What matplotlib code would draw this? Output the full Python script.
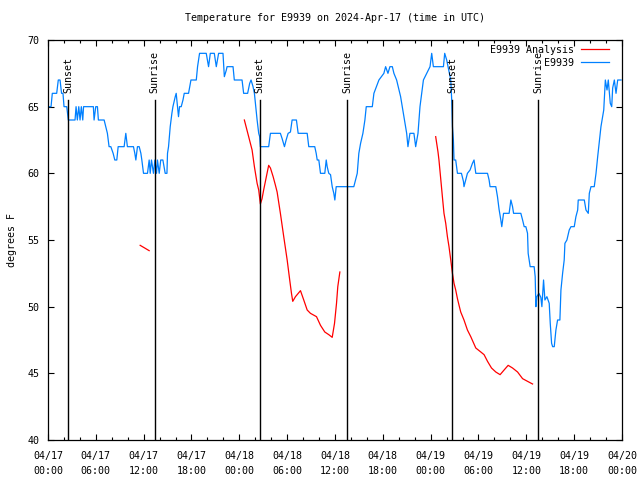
import numpy as np
import pandas as pd
import matplotlib
matplotlib.use("Agg")
import matplotlib.pyplot as plt
import matplotlib.dates as mdates

# hours since 2024-04-17 00:00 UTC
obs_hours = [0.00, 0.38, 0.54, 1.09, 1.29, 1.51, 1.70, 1.88, 2.01, 2.35, 2.55, 3.39, 3.52, 3.68,
             3.86, 4.02, 4.18, 4.36, 4.46, 5.69, 5.78, 5.99, 6.20, 6.32, 6.53, 7.04, 7.25, 7.45,
             7.66, 7.88, 8.17, 8.38, 8.63, 8.80, 9.55, 9.76, 9.96, 10.72, 10.89, 11.02, 11.22,
             11.44, 11.65, 11.77, 11.98, 12.48, 12.69, 12.82, 12.98, 13.23, 13.41, 13.61, 13.73,
             13.95, 14.14, 14.41, 14.70, 14.92, 14.99, 15.12, 15.33, 15.54, 15.67, 15.96, 16.08,
             16.25, 16.37, 16.50, 16.71, 16.93, 17.09, 17.63, 17.93, 18.60, 18.76, 19.01, 19.85,
             20.14, 20.36, 20.86, 21.11, 21.40, 21.95, 22.12, 22.37, 22.46, 23.21, 23.37, 24.34,
             24.54, 25.04, 25.30, 25.47, 25.72, 25.89, 26.23, 26.43, 26.55, 26.64, 27.68, 27.90,
             29.15, 29.37, 29.66, 29.87, 30.12, 30.41, 30.62, 31.16, 31.38, 32.51, 32.71, 33.46,
             33.64, 33.77, 33.97, 34.18, 34.72, 34.90, 35.02, 35.22, 35.44, 35.65, 35.85, 35.98,
             36.15, 38.36, 38.58, 38.79, 38.99, 39.21, 39.50, 39.75, 39.92, 40.68, 40.88, 41.51,
             42.13, 42.35, 42.64, 42.89, 43.19, 43.39, 43.73, 44.23, 44.65, 44.99, 45.15, 45.40,
             45.90, 46.12, 46.41, 46.66, 47.09, 47.50, 47.92, 48.13, 48.34, 49.60, 49.76, 50.01,
             50.52, 50.64, 50.73, 50.85, 50.93, 51.14, 51.36, 51.86, 52.11, 52.18, 52.40, 52.61,
             52.94, 53.24, 53.44, 53.66, 55.13, 55.33, 55.45, 56.17, 56.38, 56.58, 56.80, 56.92,
             57.14, 57.84, 58.06, 58.27, 58.40, 59.31, 59.53, 59.73, 59.94, 60.15, 60.23, 60.48,
             60.98, 61.11, 61.20, 61.32, 61.57, 61.82, 61.95, 62.16, 62.33, 62.58, 62.87, 63.00,
             63.17, 63.30, 63.50, 63.71, 63.92, 64.21, 64.34, 64.55, 64.75, 64.84, 65.09, 65.38,
             65.60, 66.01, 66.22, 66.44, 66.51, 67.27, 67.48, 67.77, 67.90, 68.11, 68.52, 68.74,
             68.95, 69.36, 69.71, 69.91, 70.12, 70.28, 70.53, 70.71, 70.83, 71.04, 71.25, 71.46,
             71.88]
obs_temps = [65, 65, 66, 66, 67, 67, 66, 66, 65, 65, 64, 64, 65, 64,
             65, 64, 65, 64, 65, 65, 64, 65, 65, 64, 64, 64, 63.5, 63,
             62, 62, 61.5, 61, 61, 62, 62, 63, 62, 62, 61.5, 61, 62,
             62, 61.5, 61, 60, 60, 61, 60, 61, 60, 61, 60, 61,
             60, 61, 61, 60, 60, 61.5, 62, 63.5, 64.5, 65, 65.75, 66,
             65, 64.25, 65, 65, 65.5, 66, 66, 67, 67, 68, 69, 69,
             68, 69, 69, 68, 69, 69, 67.25, 67.75, 68, 68, 67, 67,
             66, 66, 66.75, 67, 66.5, 66, 64, 63, 62.75, 62, 62, 63,
             63, 62.6, 62, 62.5, 63, 63.1, 64, 64, 63, 63, 62, 62,
             61.5, 61, 61, 60, 60, 61, 60.5, 60, 59.9, 59, 58.5, 58,
             59, 59, 59.5, 60, 61.5, 62.25, 63, 64, 65, 65, 66, 67,
             67.5, 68, 67.5, 68, 68, 67.5, 67, 65.75, 64.25, 63, 62, 63,
             63, 62, 63, 65, 67, 67.5, 68, 69, 68, 68, 69, 68.5,
             67, 65.5, 63.5, 62.5, 61, 61, 60, 60, 59.4, 59, 59.5, 60,
             60.25, 60.75, 61, 60, 60, 59.5, 59, 59, 58.25, 57.3, 56.5, 56,
             57, 57, 58, 57.5, 57, 57, 56.5, 56, 56, 55.5, 54, 53,
             53, 52.25, 50, 50.75, 51, 50.7, 50, 52, 50.5, 50.75, 50.25, 48.75,
             47.25, 47, 47, 48.25, 49, 49, 51.25, 52.5, 53.5, 54.75, 55, 55.75,
             56, 56, 56.75, 57.25, 58, 58, 57.25, 57, 58.5, 59, 59, 60,
             61.25, 63.5, 64.75, 67, 66.25, 67, 65.25, 65, 66.4, 67, 66, 67,
             67]

ana1_hours = [11.56, 12.13, 12.69]
ana1_temps = [54.6, 54.4, 54.2]
ana2_hours = [24.63, 25.17, 25.60, 25.89, 26.23, 26.43, 26.64, 26.85, 27.05, 27.39, 27.68, 27.90,
              28.24, 28.53, 28.74, 29.15, 29.57, 30.00, 30.32, 30.54, 30.70, 31.04, 31.67, 32.08,
              32.51, 32.92, 33.68, 34.18, 34.72, 35.22, 35.65, 35.94, 36.19, 36.35, 36.61]
ana2_temps = [64.0, 62.75, 61.75, 60.5, 59.25, 58.75, 57.7, 58.1, 58.75, 59.75, 60.6, 60.4,
              59.75, 59.1, 58.6, 57.0, 55.25, 53.5, 52.0, 51.0, 50.4, 50.75, 51.2, 50.5,
              49.75, 49.5, 49.25, 48.6, 48.1, 47.9, 47.7, 48.75, 50.25, 51.5, 52.6]
ana3_hours = [48.63, 48.92, 49.04, 49.26, 49.47, 49.67, 49.89, 50.10, 50.30, 50.52, 50.73, 50.93,
              51.14, 51.36, 51.56, 51.77, 52.18, 52.61, 53.03, 53.66, 54.29, 54.70, 55.13, 55.63,
              56.17, 56.71, 57.21, 57.72, 58.27, 58.90, 59.53, 60.15, 60.78]
ana3_temps = [62.75, 61.6, 61.0, 59.6, 58.25, 57.0, 56.25, 55.25, 54.5, 53.5, 52.5, 51.75,
              51.25, 50.6, 50.1, 49.6, 49.0, 48.25, 47.75, 46.9, 46.6, 46.4, 45.9, 45.4,
              45.1, 44.9, 45.25, 45.6, 45.4, 45.1, 44.6, 44.4, 44.2]

sun_hours = [2.55, 13.36, 26.55, 37.49, 50.68, 61.49]
sun_labels = ["Sunset", "Sunrise", "Sunset", "Sunrise", "Sunset", "Sunrise"]

start = pd.Timestamp("2024-04-17 00:00")
def to_time(h):
    return start + pd.to_timedelta(np.asarray(h, dtype=float), unit="h")

mono = "DejaVu Sans Mono"
fs = 7.2
plt.rcParams["font.family"] = mono
plt.rcParams["font.size"] = fs

fig = plt.figure(figsize=(6.4, 4.8), dpi=100)
ax = fig.add_axes([48 / 640, 40 / 480, 574 / 640, 400 / 480])

ana_h = ana1_hours + [np.nan] + ana2_hours + [np.nan] + ana3_hours
ana_t = ana1_temps + [np.nan] + ana2_temps + [np.nan] + ana3_temps
ana_time = to_time([h if h == h else 0 for h in ana_h])
ax.plot(ana_time, ana_t, color="#ff0000", lw=0.9, label="E9939 Analysis")
ax.plot(to_time(obs_hours), obs_temps, color="#0080ff", lw=0.9, label="E9939")

for h, lab in zip(sun_hours, sun_labels):
    t = to_time([h])[0]
    ax.plot([t, t], [40, 40 + 0.85 * 30], color="black", lw=1.0)
    ax.text(t, 40 + 0.868 * 30, lab, rotation=90, ha="center", va="bottom", fontsize=fs)

ax.set_xlim(start, start + pd.Timedelta(hours=72))
ax.set_ylim(40, 70)
ax.set_yticks(range(40, 71, 5))
ax.xaxis.set_major_locator(mdates.HourLocator(byhour=[0, 6, 12, 18]))
ax.xaxis.set_minor_locator(mdates.HourLocator(byhour=range(0, 24, 2)))
ax.xaxis.set_major_formatter(mdates.DateFormatter("%m/%d\n%H:%M"))
ax.tick_params(which="major", direction="in", length=4.5, width=0.8, top=True, right=True,
               labelsize=fs)
ax.tick_params(axis="x", which="major", pad=8)
ax.tick_params(axis="y", which="major", pad=6)
ax.tick_params(which="minor", direction="in", length=2.5, width=0.8, top=True, right=True)
for lbl in ax.get_xticklabels():
    lbl.set_linespacing(1.55)
for s in ax.spines.values():
    s.set_linewidth(0.9)

ax.set_ylabel("degrees F", fontsize=fs, labelpad=8)
fig.suptitle("Temperature for E9939 on 2024-Apr-17 (time in UTC)", x=335 / 640, y=1 - 13 / 480,
             fontsize=fs, va="top")

ax.legend(loc="upper right", bbox_to_anchor=(561 / 574, 1 - 5 / 400), markerfirst=False,
          frameon=False, fontsize=fs, handlelength=2.8, handletextpad=0.7, borderpad=0,
          borderaxespad=0, labelspacing=0.3)

fig.savefig("out.png", dpi=100)
